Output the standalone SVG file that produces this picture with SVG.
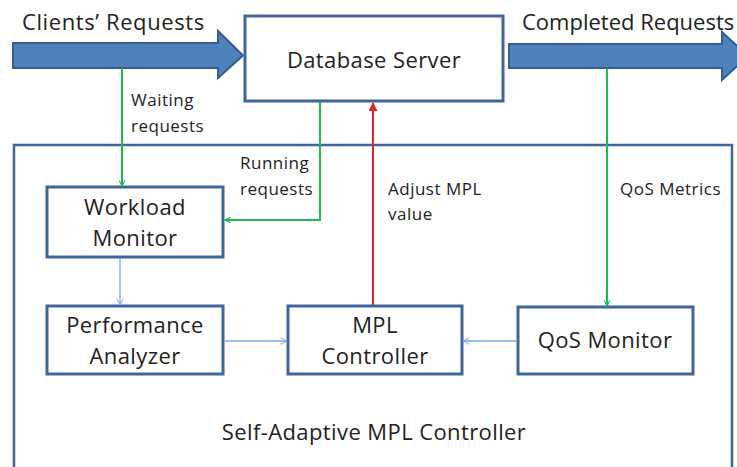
<svg xmlns="http://www.w3.org/2000/svg" width="737" height="467" viewBox="0 0 737 467">
<style>
.box{fill:#fff;stroke:#3f659a;stroke-width:3}
.big{font-family:"Open Sans","Liberation Sans",sans-serif;font-size:22px;letter-spacing:0.4px;fill:#222;text-anchor:middle}
.lbl{font-family:"Open Sans","Liberation Sans",sans-serif;font-size:17px;letter-spacing:0.5px;fill:#222}
.hdr{font-family:"Open Sans","Liberation Sans",sans-serif;font-size:22px;letter-spacing:0.6px;fill:#222}
.fat{fill:#4f81bd;stroke:#385d8a;stroke-width:2}
.g{stroke:#1fb954;stroke-width:2;fill:none}
.r{stroke:#e0242a;stroke-width:2;fill:none}
.b{stroke:#7fa6dc;stroke-width:1.3;fill:none}
</style>
<defs>
<marker id="ag" viewBox="0 0 10 10" refX="9" refY="5" markerWidth="7" markerHeight="7" orient="auto" markerUnits="userSpaceOnUse"><path d="M1,1 L9,5 L1,9" fill="none" stroke="#1fb954" stroke-width="1.6"/></marker>
<marker id="ar" viewBox="0 0 10 10" refX="9" refY="5" markerWidth="9" markerHeight="9" orient="auto" markerUnits="userSpaceOnUse"><path d="M0,0 L10,5 L0,10 z" fill="#e0242a"/></marker>
<marker id="ab" viewBox="0 0 10 10" refX="9" refY="5" markerWidth="8" markerHeight="8" orient="auto" markerUnits="userSpaceOnUse"><path d="M1,1 L9,5 L1,9" fill="none" stroke="#7fa6dc" stroke-width="1.2"/></marker>
</defs>
<rect width="737" height="467" fill="#fff"/>
<g id="outer"><rect x="14" y="145" width="718" height="340" fill="none" stroke="#3f659a" stroke-width="2.5"/>
<text class="big" x="374" y="440">Self-Adaptive MPL Controller</text></g>
<g id="clients-arrow"><path class="fat" d="M13,43 L218,43 L218,31 L243,55.5 L218,78 L218,68 L13,68 Z"/>
<text class="hdr" x="22" y="30">Clients’ Requests</text></g>
<g id="completed-arrow"><path class="fat" d="M509,44 L722,44 L722,32 L748,56 L722,80 L722,68 L509,68 Z"/>
<text class="hdr" x="522" y="30" style="letter-spacing:0">Completed Requests</text></g>
<g id="db"><rect class="box" x="245" y="16" width="258" height="85"/><text class="big" x="374" y="68">Database Server</text></g>
<g id="workload"><rect class="box" x="47" y="187" width="176" height="70"/><text class="big" x="135" y="215">Workload</text><text class="big" x="135" y="246">Monitor</text></g>
<g id="perf"><rect class="box" x="47" y="306" width="176" height="68"/><text class="big" x="135" y="333">Performance</text><text class="big" x="135" y="364">Analyzer</text></g>
<g id="mpl"><rect class="box" x="288" y="306" width="174" height="68"/><text class="big" x="375" y="333">MPL</text><text class="big" x="375" y="364">Controller</text></g>
<g id="qos"><rect class="box" x="518" y="307" width="175" height="67"/><text class="big" x="605" y="348">QoS Monitor</text></g>
<g id="connectors">
<path class="g" d="M122,68 L122,186" marker-end="url(#ag)"/>
<path class="g" d="M320,102 L320,220 L225,220" marker-end="url(#ag)"/>
<path class="g" d="M607,68 L607,306" marker-end="url(#ag)"/>
<path class="r" d="M373,305 L373,103" marker-end="url(#ar)"/>
<path class="b" d="M120,258 L120,305" marker-end="url(#ab)"/>
<path class="b" d="M224,341 L287,341" marker-end="url(#ab)"/>
<path class="b" d="M517,341 L463,341" marker-end="url(#ab)"/>
<text class="lbl" x="131" y="106">Waiting</text><text class="lbl" x="131" y="132">requests</text>
<text class="lbl" x="240" y="169">Running</text><text class="lbl" x="240" y="195">requests</text>
<text class="lbl" x="388" y="195">Adjust MPL</text><text class="lbl" x="388" y="220">value</text>
<text class="lbl" x="620" y="195">QoS Metrics</text>
</g>
</svg>
